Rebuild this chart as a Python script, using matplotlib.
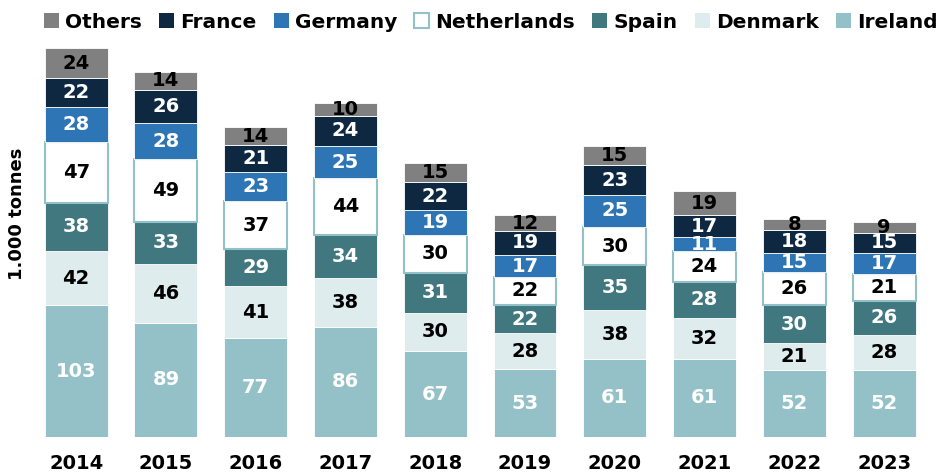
import matplotlib.pyplot as plt
from matplotlib.patches import Patch
import numpy as np

years = ['2014', '2015', '2016', '2017', '2018', '2019', '2020', '2021', '2022', '2023']
ireland = [103, 89, 77, 86, 67, 53, 61, 61, 52, 52]
denmark = [42, 46, 41, 38, 30, 28, 38, 32, 21, 28]
spain = [38, 33, 29, 34, 31, 22, 35, 28, 30, 26]
netherlands = [47, 49, 37, 44, 30, 22, 30, 24, 26, 21]
germany = [28, 28, 23, 25, 19, 17, 25, 11, 15, 17]
france = [22, 26, 21, 24, 22, 19, 23, 17, 18, 15]
others = [24, 14, 14, 10, 15, 12, 15, 19, 8, 9]

# (name, values, face, edge, label colour)
series = [
    ('Ireland', ireland, '#94c1c8', 'white', 'white'),
    ('Denmark', denmark, '#deecee', 'white', 'black'),
    ('Spain', spain, '#41777e', 'white', 'white'),
    ('Netherlands', netherlands, 'white', '#94c1c8', 'black'),
    ('Germany', germany, '#2e75b6', 'white', 'white'),
    ('France', france, '#0e2841', 'white', 'white'),
    ('Others', others, '#808080', 'white', 'black'),
]

fig = plt.figure(figsize=(9.47, 4.76), dpi=100)
ax = fig.add_axes([0.033, 0.082, 0.948, 0.834])

x = np.arange(len(years))
bottom = np.zeros(len(years))
for name, vals, face, edge, tc in series:
    vals = np.array(vals, dtype=float)
    lw = 1.5 if name == 'Netherlands' else 0.6
    ax.bar(x, vals, 0.7, bottom=bottom, color=face, edgecolor=edge, linewidth=lw)
    for xi, b, v in zip(x, bottom, vals):
        ax.text(xi, b + v / 2, f'{int(v)}', ha='center', va='center',
                color=tc, fontsize=14, fontweight='bold')
    bottom += vals

ax.set_xlim(-0.5, len(years) - 0.5)
ax.set_ylim(0, 310)
ax.set_xticks(x)
ax.set_xticklabels(years, fontsize=14, fontweight='bold')
ax.tick_params(axis='x', length=0, pad=12)
ax.set_yticks([])
for s in ax.spines.values():
    s.set_visible(False)

fig.text(0.018, 0.55, '1.000 tonnes', rotation=90, ha='center', va='center',
         fontsize=13, fontweight='bold')

handles = []
for name, vals, face, edge, tc in reversed(series):
    handles.append(Patch(facecolor=face, edgecolor=edge, linewidth=1.5 if name == 'Netherlands' else 0,
                         label=name))
fig.legend(handles=handles, loc='upper left', bbox_to_anchor=(0.038, 0.99), ncol=7,
           frameon=False, handlelength=0.75, handleheight=0.75, handletextpad=0.3,
           columnspacing=0.85, borderaxespad=0,
           prop={'size': 14.5, 'weight': 'bold'})

fig.savefig('out.png', dpi=100)
